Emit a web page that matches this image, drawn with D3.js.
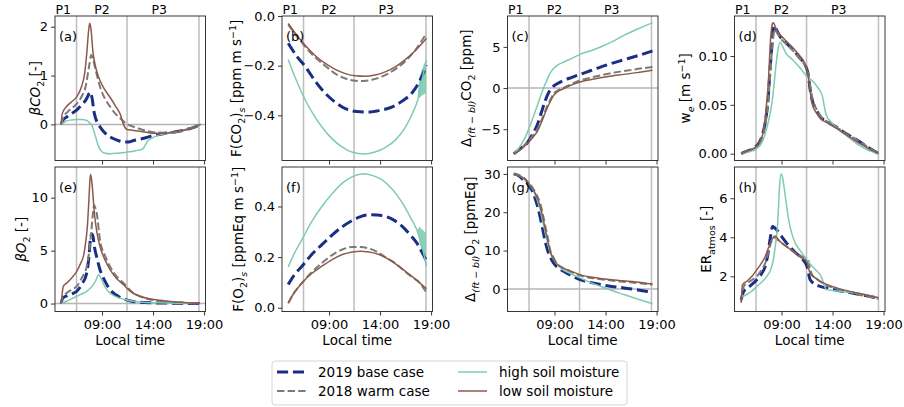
<!DOCTYPE html>
<html>
<head>
<meta charset="utf-8">
<script src="https://cdn.jsdelivr.net/npm/d3@7"></script>
<style>
  body { margin: 0; background: #fff; }
  svg text { font-family: "DejaVu Sans", sans-serif; fill: #000; }
</style>
</head>
<body>
<svg id="fig" width="904" height="407"></svg>
<script>
// ---- data (time in decimal local hours) ----
const seriesNames = ["2019 base case", "2018 warm case", "high soil moisture", "low soil moisture"];
const phaseLines = [6.5, 11.45, 18.5];
const phaseNames = ["P1", "P2", "P3"];
const phaseNameTimes = [5.2, 9.0, 14.6];
const xTickTimes = [9, 14, 19];
const xTickLabels = ["09:00", "14:00", "19:00"];

// (a) beta CO2
const aBase = [[5.0,0],[5.15,0.08],[5.6,0.16],[6.0,0.22],[6.5,0.29],[7.0,0.4],[7.5,0.53],[7.75,0.64],[7.85,0.66],[8.0,0.56],[8.25,0.22],[8.5,0.05],[8.8,-0.05],[9.4,-0.2],[10.1,-0.29],[10.7,-0.34],[11.1,-0.36],[11.6,-0.36],[12.1,-0.33],[13,-0.29],[14,-0.23],[15,-0.19],[16,-0.16],[17,-0.12],[18,-0.06],[18.65,0]];
const aWarm = [[5.0,0],[5.2,0.14],[5.6,0.25],[6.5,0.42],[7.0,0.57],[7.4,0.78],[7.7,1.15],[7.95,1.42],[8.1,1.35],[8.3,1.18],[8.8,0.77],[9.3,0.52],[9.8,0.36],[10.3,0.22],[10.8,0.12],[11.5,0.0],[12.1,-0.05],[12.8,-0.1],[14,-0.16],[15,-0.17],[16,-0.16],[17,-0.12],[18,-0.06],[18.65,0]];
const aHigh = [[5.0,0],[5.5,0.07],[6.0,0.09],[6.5,0.1],[7.0,0.1],[7.5,0.08],[7.8,0.03],[8.0,-0.02],[8.3,-0.2],[8.6,-0.42],[8.9,-0.54],[9.3,-0.59],[9.8,-0.6],[10.5,-0.59],[11.4,-0.57],[12.3,-0.54],[13.0,-0.5],[13.2,-0.44],[13.4,-0.36],[13.8,-0.29],[14.4,-0.23],[15,-0.2],[16,-0.17],[17,-0.12],[18,-0.06],[18.65,0]];
const aLow = [[5.0,0],[5.1,0.22],[5.5,0.36],[6.0,0.46],[6.5,0.56],[7.0,0.78],[7.3,1.05],[7.5,1.45],[7.7,1.95],[7.8,2.07],[7.92,1.95],[8.1,1.5],[8.4,1.15],[8.8,0.9],[9.3,0.7],[9.8,0.55],[10.3,0.38],[10.8,0.2],[11.1,0.0],[11.4,-0.1],[12.0,-0.12],[13,-0.15],[14,-0.18],[15,-0.18],[16,-0.16],[17,-0.12],[18,-0.06],[18.65,0]];

// (b) F(CO2)s
const bBase = [[5.0,-0.11],[5.8,-0.16],[6.7,-0.205],[7.6,-0.26],[8.6,-0.31],[9.6,-0.347],[10.6,-0.373],[11.7,-0.385],[12.9,-0.387],[14.0,-0.38],[15.2,-0.366],[16.2,-0.342],[17.2,-0.306],[17.9,-0.26],[18.55,-0.198]];
const bWarm = [[5.0,-0.035],[5.8,-0.08],[6.7,-0.125],[7.6,-0.165],[8.6,-0.2],[9.6,-0.232],[10.6,-0.252],[11.6,-0.261],[12.4,-0.262],[13.4,-0.255],[14.4,-0.24],[15.4,-0.217],[16.4,-0.185],[17.4,-0.14],[18.55,-0.07]];
const bHigh = [[5.0,-0.175],[5.7,-0.25],[6.4,-0.315],[7.3,-0.385],[8.3,-0.447],[9.3,-0.495],[10.3,-0.528],[11.3,-0.549],[12.4,-0.556],[13.5,-0.548],[14.5,-0.53],[15.5,-0.5],[16.5,-0.447],[17.2,-0.39],[17.75,-0.33],[18.1,-0.26],[18.55,-0.178]];
const bLow = [[5.0,-0.03],[5.8,-0.075],[6.7,-0.12],[7.6,-0.158],[8.6,-0.19],[9.6,-0.215],[10.6,-0.232],[11.6,-0.241],[12.5,-0.243],[13.5,-0.238],[14.5,-0.225],[15.5,-0.205],[16.5,-0.175],[17.5,-0.138],[18.55,-0.09]];
const bHighBand = [[17.7,-0.33,-0.31],[17.85,-0.33,-0.25],[18.1,-0.32,-0.215],[18.5,-0.31,-0.175]];

// (c) Delta CO2
const cBase = [[5.0,-8],[5.6,-7.4],[6.3,-6.7],[6.8,-5.7],[7.3,-4.5],[7.7,-3.0],[8.1,-1.5],[8.4,-0.6],[8.75,0.05],[9.3,0.55],[9.9,0.93],[10.7,1.3],[11.5,1.66],[12.5,2.1],[13.5,2.55],[14.6,3.0],[15.8,3.44],[17.2,3.95],[18.6,4.5]];
const cWarm = [[5.0,-8],[5.6,-7.5],[6.3,-6.6],[6.8,-5.9],[7.3,-5.0],[7.8,-3.7],[8.25,-2.3],[8.6,-1.4],[8.9,-0.7],[9.3,-0.3],[9.9,0.04],[10.7,0.5],[11.5,0.93],[12.5,1.25],[13.5,1.54],[14.6,1.82],[15.8,2.06],[17.2,2.33],[18.6,2.55]];
const cHigh = [[5.0,-8],[5.5,-7.3],[6.0,-6.3],[6.4,-5.2],[6.8,-3.9],[7.2,-2.5],[7.6,-1.1],[7.95,0.1],[8.25,0.93],[8.5,1.65],[8.75,2.15],[9.2,2.7],[9.9,3.16],[10.7,3.6],[11.5,4.09],[12.5,4.5],[13.5,4.98],[14.6,5.6],[15.8,6.4],[17.2,7.2],[18.6,7.95]];
const cLow = [[5.0,-8],[5.6,-7.55],[6.3,-6.8],[6.8,-6.1],[7.3,-5.3],[7.8,-3.9],[8.25,-2.5],[8.6,-1.6],[8.9,-0.9],[9.3,-0.45],[9.9,-0.08],[10.7,0.38],[11.5,0.73],[12.5,1.02],[13.5,1.26],[14.6,1.47],[15.8,1.66],[17.2,1.9],[18.6,2.15]];

// (d) entrainment velocity
const dBase = [[5.05,0],[5.5,0.002],[6.0,0.004],[6.55,0.008],[6.9,0.013],[7.2,0.022],[7.45,0.035],[7.7,0.058],[7.9,0.09],[8.05,0.11],[8.25,0.131],[8.5,0.127],[8.85,0.12],[9.5,0.113],[10.16,0.106],[10.8,0.098],[11.3,0.091],[11.6,0.082],[11.8,0.066],[12.0,0.055],[12.4,0.045],[12.8,0.038],[13.6,0.032],[14.4,0.027],[15.4,0.02],[16.4,0.014],[17.4,0.007],[18.5,0]];
const dWarm = [[5.05,0],[5.5,0.002],[6.0,0.004],[6.55,0.007],[6.9,0.012],[7.2,0.02],[7.45,0.032],[7.7,0.053],[7.9,0.083],[8.1,0.11],[8.3,0.127],[8.55,0.124],[8.9,0.118],[9.5,0.112],[10.16,0.105],[10.8,0.097],[11.3,0.09],[11.6,0.083],[11.8,0.07],[12.0,0.058],[12.4,0.046],[12.8,0.039],[13.6,0.032],[14.4,0.027],[15.4,0.02],[16.4,0.014],[17.4,0.007],[18.5,0]];
const dHigh = [[5.05,0],[5.8,0.002],[6.55,0.005],[7.0,0.01],[7.3,0.017],[7.6,0.028],[7.9,0.042],[8.1,0.055],[8.35,0.08],[8.6,0.103],[8.83,0.114],[9.1,0.11],[9.42,0.103],[10.0,0.097],[10.8,0.088],[11.5,0.079],[12.1,0.074],[12.6,0.067],[13.0,0.059],[13.2,0.048],[13.4,0.039],[13.9,0.032],[14.4,0.026],[15.4,0.018],[16.4,0.01],[17.4,0.004],[18.5,0]];
const dLow = [[5.05,0],[5.5,0.002],[6.0,0.004],[6.55,0.0075],[6.9,0.013],[7.2,0.022],[7.45,0.042],[7.7,0.072],[7.93,0.118],[8.1,0.133],[8.19,0.134],[8.5,0.127],[9.3,0.117],[10.16,0.108],[10.8,0.1],[11.3,0.092],[11.6,0.08],[11.8,0.064],[12.0,0.051],[12.4,0.042],[12.8,0.036],[13.6,0.031],[14.4,0.026],[15.4,0.019],[16.4,0.012],[17.4,0.006],[18.5,0]];

// (e) beta O2
const eBase = [[5.0,0],[5.15,0.53],[5.6,0.75],[6.0,0.9],[6.52,1.16],[7.0,1.8],[7.5,2.88],[7.7,4.3],[7.89,6.3],[8.0,6.58],[8.12,6.3],[8.25,5.39],[8.5,4.3],[8.8,3.2],[9.3,2.1],[9.78,1.32],[10.4,0.8],[11.1,0.44],[11.8,0.25],[12.7,0.13],[14.0,0.07],[15.5,0.04],[17.0,0.02],[18.6,0.01]];
const eWarm = [[5.0,0],[5.15,0.69],[5.6,1.05],[6.0,1.3],[6.52,1.63],[7.0,2.4],[7.5,3.51],[7.75,5.0],[7.99,7.27],[8.12,8.6],[8.22,9.31],[8.35,9.0],[8.48,8.53],[8.8,6.0],[9.3,4.5],[9.78,3.51],[10.4,2.6],[11.1,1.94],[11.6,1.4],[12.07,1.0],[12.8,0.65],[13.7,0.38],[14.7,0.24],[15.7,0.15],[16.7,0.09],[17.6,0.04],[18.6,0.02]];
const eHigh = [[5.0,0],[5.54,0.22],[6.0,0.45],[6.52,0.69],[7.0,0.9],[7.5,1.16],[7.85,1.45],[8.15,1.79],[8.4,2.2],[8.64,2.73],[8.8,2.57],[9.1,1.95],[9.46,1.32],[9.9,0.9],[10.4,0.63],[11.2,0.38],[12.07,0.22],[13.0,0.13],[14.5,0.07],[16.5,0.03],[18.6,0.01]];
const eLow = [[5.0,0],[5.1,1.0],[5.2,1.63],[5.54,1.94],[6.0,2.4],[6.52,3.04],[6.9,3.8],[7.17,4.45],[7.4,5.8],[7.56,7.27],[7.68,9.2],[7.76,10.7],[7.86,12.2],[7.95,11.9],[8.05,11.0],[8.25,8.53],[8.5,6.7],[8.8,5.39],[9.3,4.1],[9.78,3.2],[10.4,2.4],[11.1,1.79],[11.58,1.32],[12.1,0.95],[12.73,0.69],[13.6,0.45],[14.7,0.31],[15.7,0.2],[16.65,0.13],[17.6,0.06],[18.6,0.02]];

// (f) F(O2)s
const fBase = [[5.0,0.092],[5.6,0.13],[6.35,0.164],[7.3,0.21],[8.3,0.249],[9.3,0.287],[10.3,0.32],[11.3,0.345],[12.1,0.36],[12.9,0.367],[13.7,0.366],[14.5,0.361],[15.4,0.345],[16.2,0.32],[16.9,0.29],[17.6,0.256],[18.1,0.22],[18.55,0.185]];
const fWarm = [[5.0,0.017],[5.6,0.06],[6.35,0.098],[7.3,0.14],[8.3,0.177],[9.3,0.208],[10.3,0.23],[11.3,0.24],[12.1,0.24],[12.9,0.234],[13.6,0.223],[14.5,0.2],[15.4,0.178],[16.2,0.151],[17.0,0.125],[17.9,0.098],[18.55,0.059]];
const fHigh = [[5.0,0.161],[5.6,0.215],[6.35,0.269],[7.3,0.34],[8.3,0.4],[9.3,0.45],[10.3,0.492],[11.3,0.518],[12.4,0.529],[13.3,0.522],[14.2,0.505],[15.2,0.468],[16.2,0.413],[17.0,0.355],[17.6,0.308],[18.1,0.245],[18.55,0.164]];
const fLow = [[5.0,0.02],[5.6,0.06],[6.35,0.098],[7.3,0.135],[8.3,0.164],[9.3,0.19],[10.3,0.21],[11.3,0.22],[12.1,0.223],[12.9,0.22],[13.9,0.21],[14.9,0.19],[15.8,0.165],[16.7,0.137],[17.6,0.108],[18.55,0.075]];
const fHighBand = [[17.7,0.30,0.31],[17.85,0.26,0.32],[18.1,0.22,0.31],[18.5,0.165,0.295]];

// (g) Delta O2
const gBase = [[5.0,30],[5.5,29.5],[5.96,28.4],[6.4,27.3],[6.78,25.8],[7.1,23.6],[7.43,20.6],[7.7,17.3],[7.92,14.5],[8.15,11.7],[8.41,9.35],[8.65,7.9],[8.9,6.75],[9.3,5.6],[9.88,4.59],[10.7,3.4],[11.5,2.42],[12.5,1.7],[13.5,1.13],[14.6,0.65],[15.8,0.26],[17.2,-0.3],[18.6,-0.87]];
const gWarm = [[5.0,30],[5.5,29.7],[5.96,29.1],[6.4,27.9],[6.9,26.2],[7.25,24.5],[7.6,22.3],[7.85,19.5],[8.1,16.3],[8.35,13.2],[8.57,10.2],[8.9,8.2],[9.2,6.75],[9.8,5.5],[10.5,4.59],[11.1,3.9],[11.8,3.29],[13.0,2.7],[14.4,2.25],[15.7,1.88],[17.0,1.56],[18.6,1.13]];
const gHigh = [[5.0,30],[5.5,29.6],[5.96,28.8],[6.4,27.5],[6.9,25.8],[7.25,23.5],[7.6,20.6],[7.85,17.5],[8.1,14.5],[8.35,11.7],[8.6,9.35],[9.0,7.4],[9.4,5.9],[10.4,4.2],[11.5,2.86],[12.5,1.7],[13.5,0.69],[14.6,-0.4],[15.8,-1.47],[17.2,-2.7],[18.6,-3.9]];
const gLow = [[5.0,30],[5.5,29.6],[5.96,28.9],[6.4,27.7],[6.9,26.0],[7.25,24.0],[7.6,21.5],[7.85,18.7],[8.1,15.4],[8.35,12.5],[8.57,9.8],[8.9,7.9],[9.2,6.6],[9.8,5.5],[10.5,4.76],[11.1,4.1],[11.8,3.46],[13.0,2.9],[14.4,2.42],[15.7,2.1],[17.0,1.82],[18.6,1.25]];

// (h) ER atmos
const hBase = [[5.05,0.81],[5.3,1.24],[5.9,1.5],[6.58,1.83],[7.0,2.1],[7.4,2.51],[7.65,3.1],[7.87,3.87],[8.13,4.55],[8.3,4.5],[8.53,4.38],[9.0,4.05],[9.5,3.7],[10.3,3.25],[11.1,2.85],[11.5,2.5],[11.8,1.83],[12.2,1.62],[12.77,1.49],[13.6,1.38],[14.4,1.29],[15.4,1.2],[16.4,1.1],[17.4,1.0],[18.5,0.88]];
const hWarm = [[5.05,0.73],[5.3,1.49],[5.9,1.75],[6.58,2.0],[7.0,2.3],[7.4,2.68],[7.7,3.2],[7.95,3.7],[8.23,4.0],[8.5,3.92],[8.86,3.78],[9.5,3.52],[10.16,3.27],[10.9,3.05],[11.6,2.85],[11.8,2.4],[12.0,2.08],[12.5,1.85],[13.0,1.66],[13.8,1.47],[14.7,1.32],[15.7,1.18],[16.7,1.05],[17.6,0.95],[18.5,0.85]];
const hHigh = [[5.05,0.95],[5.6,1.07],[6.1,1.25],[6.58,1.49],[7.1,1.72],[7.56,2.0],[7.9,2.3],[8.2,2.85],[8.4,3.6],[8.6,4.55],[8.72,5.7],[8.8,6.58],[8.96,7.26],[9.08,7.1],[9.2,6.75],[9.45,5.8],[9.7,4.89],[10.0,4.2],[10.35,3.7],[11.0,3.2],[11.6,2.76],[12.3,2.35],[12.95,1.92],[13.15,1.6],[13.4,1.32],[14.0,1.28],[14.7,1.24],[15.7,1.18],[16.7,1.12],[17.6,1.02],[18.5,0.9]];
const hLow = [[5.05,0.64],[5.17,1.58],[5.6,1.75],[6.1,2.0],[6.58,2.34],[7.0,2.65],[7.4,3.02],[7.75,3.5],[8.04,3.87],[8.37,4.07],[8.6,3.95],[8.86,3.78],[9.5,3.52],[10.16,3.27],[10.8,3.0],[11.47,2.76],[11.65,2.4],[11.8,2.17],[12.3,1.92],[12.77,1.75],[13.6,1.55],[14.4,1.41],[15.4,1.27],[16.4,1.15],[17.4,1.03],[18.5,0.9]];

// ---- styles ----
const styles = [
  { color: "#182f85", width: 3, dash: "11.1,4.8" },
  { color: "#7a7a7a", width: 2, dash: "7.4,3.2" },
  { color: "#7ecbb4", width: 1.5, dash: null },
  { color: "#8c5a4a", width: 1.5, dash: null }
];

// ---- layout ----
const colLeft = [55, 282, 507.5, 734.5];
const rowTop = [16, 167];
const pw = 150.5, ph = 144.5;
const svg = d3.select("#fig");
const sp = "\u00a0";

// label segments: [text, kind]  kind: n normal, i italic, s subscript, si italic subscript, p superscript
const panels = [
  { tag: "(a)", col: 0, row: 0, sets: [aBase, aWarm, aHigh, aLow], y: [-0.74, 2.22], ticks: [0, 1, 2], fmt: d3.format("d"), zero: true, lx: 40,
    label: [["β", "i"], ["CO", "i"], ["2", "s"], [sp + "[-]", "n"]] },
  { tag: "(b)", col: 1, row: 0, sets: [bBase, bWarm, bHigh, bLow], band: bHighBand, y: [-0.582, 0.0], ticks: [0, -0.2, -0.4], fmt: d3.format(".1f"), lx: 241,
    label: [["F(CO", "n"], ["2", "s"], [")", "n"], ["s", "si"], [sp + "[ppm m s", "n"], ["−1", "p"], ["]", "n"]] },
  { tag: "(c)", col: 2, row: 0, sets: [cBase, cWarm, cHigh, cLow], y: [-8.8, 8.75], ticks: [-5, 0, 5], fmt: d3.format("d"), zero: true, lx: 471,
    label: [["Δ", "n"], ["(ft − bl)", "si"], ["CO", "n"], ["2", "s"], [sp + "[ppm]", "n"]] },
  { tag: "(d)", col: 3, row: 0, sets: [dBase, dWarm, dHigh, dLow], y: [-0.007, 0.141], ticks: [0, 0.05, 0.1], fmt: d3.format(".2f"), lx: 690,
    label: [["w", "n"], ["e", "si"], [sp + "[m s", "n"], ["−1", "p"], ["]", "n"]] },
  { tag: "(e)", col: 0, row: 1, sets: [eBase, eWarm, eHigh, eLow], y: [-0.75, 12.9], ticks: [0, 5, 10], fmt: d3.format("d"), zero: true, lx: 26,
    label: [["β", "i"], ["O", "i"], ["2", "s"], [sp + "[-]", "n"]] },
  { tag: "(f)", col: 1, row: 1, sets: [fBase, fWarm, fHigh, fLow], band: fHighBand, y: [-0.015, 0.556], ticks: [0, 0.2, 0.4], fmt: d3.format(".1f"), lx: 243,
    label: [["F(O", "n"], ["2", "s"], [")", "n"], ["s", "si"], [sp + "[ppmEq m s", "n"], ["−1", "p"], ["]", "n"]] },
  { tag: "(g)", col: 2, row: 1, sets: [gBase, gWarm, gHigh, gLow], y: [-5.9, 31.8], ticks: [0, 10, 20, 30], fmt: d3.format("d"), zero: true, lx: 475,
    label: [["Δ", "n"], ["(ft − bl)", "si"], ["O", "n"], ["2", "s"], [sp + "[ppmEq]", "n"]] },
  { tag: "(h)", col: 3, row: 1, sets: [hBase, hWarm, hHigh, hLow], y: [0.2, 7.6], ticks: [2, 4, 6], fmt: d3.format("d"), lx: 711,
    label: [["ER", "n"], ["atmos", "s"], [sp + "[-]", "n"]] }
];

function richText(sel, segs) {
  let shift = 0;
  segs.forEach(([s, kind]) => {
    const t = sel.append("tspan").text(s);
    let target = 0;
    if (kind === "s" || kind === "si") target = 4;
    if (kind === "p") target = -5;
    t.attr("dy", target - shift);
    shift = target;
    if (target !== 0) t.attr("font-size", "9.5px");
    if (kind === "i" || kind === "si") t.attr("font-style", "italic");
  });
}

const x = d3.scaleLinear().domain([4.39, 19.14]).range([0, pw]);

panels.forEach((p, pi) => {
  const g = svg.append("g").attr("transform", `translate(${colLeft[p.col]},${rowTop[p.row]})`);
  const y = d3.scaleLinear().domain(p.y).range([ph, 0]);

  const clipId = "clip" + pi;
  g.append("clipPath").attr("id", clipId).append("rect").attr("width", pw).attr("height", ph);

  // phase lines
  g.selectAll("line.phase").data(phaseLines).join("line")
    .attr("class", "phase")
    .attr("x1", d => x(d)).attr("x2", d => x(d))
    .attr("y1", 0).attr("y2", ph)
    .attr("stroke", "#bdbdbd").attr("stroke-width", 1.5);

  if (p.zero) {
    g.append("line")
      .attr("x1", 0).attr("x2", pw).attr("y1", y(0)).attr("y2", y(0))
      .attr("stroke", "#b5b5b5").attr("stroke-width", 1.5);
  }

  const plot = g.append("g").attr("clip-path", `url(#${clipId})`);

  if (p.band) {
    const area = d3.area().x(d => x(d[0])).y0(d => y(d[1])).y1(d => y(d[2]));
    plot.append("path").datum(p.band).attr("d", area)
      .attr("fill", styles[2].color).attr("opacity", 0.9);
  }

  const line = d3.line().x(d => x(d[0])).y(d => y(d[1])).curve(d3.curveMonotoneX);
  p.sets.forEach((data, si) => {
    const st = styles[si];
    plot.append("path").datum(data).attr("d", line)
      .attr("fill", "none")
      .attr("stroke", st.color)
      .attr("stroke-width", st.width)
      .attr("stroke-dasharray", st.dash)
      .attr("stroke-linejoin", "round");
  });

  // axes
  const yAxis = d3.axisLeft(y).tickValues(p.ticks).tickFormat(p.fmt).tickSize(4).tickPadding(3);
  const ya = g.append("g").call(yAxis);
  ya.select(".domain").remove();
  ya.selectAll("line").attr("stroke", "#222").attr("stroke-width", 0.9);
  ya.selectAll("text").attr("font-size", "13px").attr("font-family", "DejaVu Sans, sans-serif").attr("fill", "#000");

  const xAxis = d3.axisBottom(x).tickValues(xTickTimes)
    .tickFormat((d, i) => p.row === 1 ? xTickLabels[i] : "").tickSize(4).tickPadding(4);
  const xa = g.append("g").attr("transform", `translate(0,${ph})`).call(xAxis);
  xa.select(".domain").remove();
  xa.selectAll("line").attr("stroke", "#222").attr("stroke-width", 0.9);
  xa.selectAll("text").attr("font-size", "13px").attr("font-family", "DejaVu Sans, sans-serif").attr("fill", "#000");

  // frame
  g.append("rect").attr("width", pw).attr("height", ph)
    .attr("fill", "none").attr("stroke", "#222").attr("stroke-width", 0.9);

  // panel tag
  g.append("text").attr("x", 4).attr("y", 25).attr("font-size", "13px").text(p.tag);

  // y label
  const lt = svg.append("text")
    .attr("transform", `translate(${p.lx},${rowTop[p.row] + ph / 2}) rotate(-90)`)
    .attr("text-anchor", "middle").attr("font-size", "13.5px");
  richText(lt, p.label);

  if (p.row === 0) {
    g.selectAll("text.phase").data(phaseNames).join("text")
      .attr("class", "phase")
      .attr("x", (d, i) => x(phaseNameTimes[i])).attr("y", -2)
      .attr("text-anchor", "middle").attr("font-size", "12.5px")
      .text(d => d);
  } else {
    g.append("text").attr("x", pw / 2).attr("y", ph + 33)
      .attr("text-anchor", "middle").attr("font-size", "13.5px").text("Local time");
  }
});

// ---- legend ----
const lg = svg.append("g").attr("transform", "translate(272,361)");
lg.append("rect").attr("width", 355).attr("height", 44).attr("rx", 3)
  .attr("fill", "#fff").attr("stroke", "#d0d0d0").attr("stroke-width", 0.9);
const legendPos = [[5, 11], [5, 30], [186, 11], [186, 30]];
seriesNames.forEach((name, i) => {
  const [lx, ly] = legendPos[i];
  const st = styles[i];
  lg.append("line").attr("x1", lx).attr("x2", lx + 29).attr("y1", ly).attr("y2", ly)
    .attr("stroke", st.color).attr("stroke-width", st.width).attr("stroke-dasharray", st.dash);
  lg.append("text").attr("x", lx + 41).attr("y", ly + 4.8).attr("font-size", "13.5px").text(name);
});
</script>
</body>
</html>
